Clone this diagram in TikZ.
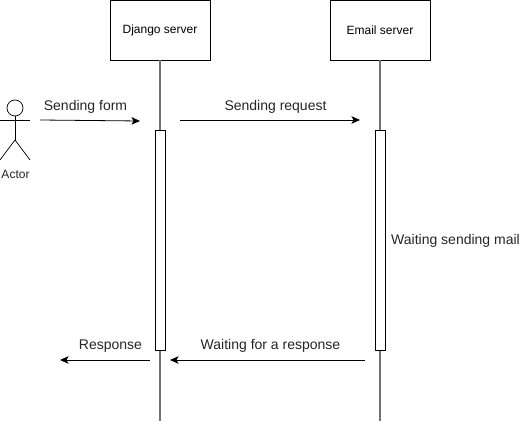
\documentclass[tikz,border=0pt]{standalone}
\usepackage{fontspec}
\setmainfont{Liberation Sans}
\usepackage{tikz}
\usetikzlibrary{arrows.meta}

\tikzset{
  server/.style={shape=rectangle,draw=black,minimum width=100pt,minimum height=60pt,inner sep=0pt,font=\fontsize{12}{14}\selectfont},
  activation/.style={shape=rectangle,draw=black,fill=white,minimum width=10pt,minimum height=220pt,inner sep=0pt},
  lifeline/.style={draw=black!55,line width=1.3pt},
  message/.style={draw=black,line width=0.8pt,-{Stealth[length=8.5pt,width=7.5pt,inset=2pt]}},
  lbl/.style={inner sep=0pt,text=black!85,font=\fontsize{14}{16}\selectfont},
  stick/.style={draw=black,line width=0.7pt}
}

\begin{document}
\begin{tikzpicture}[x=1pt,y=-1pt]
\useasboundingbox (0,0) rectangle (531,422);
\fill[white] (0,0) rectangle (531,422);
% servers
\node[server] (Django) at (160,30) {Django server};
\node[server] (Email) at (380,30) {Email server};
\coordinate (DjangoEnd) at (160,421);
\coordinate (EmailEnd) at (380,421);
\path [lifeline] (Django) -- (DjangoEnd);
\path [lifeline] (Email) -- (EmailEnd);
\node[activation] (DjangoBar) at (160,240) {};
\node[activation] (EmailBar) at (380,240) {};
% actor
\node[shape=circle,draw=black,line width=0.7pt,minimum size=16pt,inner sep=0pt] (Head) at (15,108) {};
\coordinate (Hip) at (15,140);
\coordinate (ArmL) at (0,120);
\coordinate (ArmR) at (30,120);
\coordinate (FootL) at (0,160);
\coordinate (FootR) at (30,160);
\path [stick] (Head) -- (Hip);
\path [stick] (ArmL) -- (ArmR);
\path [stick] (Hip) -- (FootL);
\path [stick] (Hip) -- (FootR);
\node[inner sep=0pt,text=black!85,font=\fontsize{12}{14}\selectfont] (Actor) at (15.5,174) {Actor};
% messages
\coordinate (A1) at (40,120);
\coordinate (A2) at (140,121);
\coordinate (B1) at (180,120);
\coordinate (B2) at (360,120);
\coordinate (C1) at (365,360);
\coordinate (C2) at (170,360);
\coordinate (D1) at (150,360);
\coordinate (D2) at (60,360);
\path [message] (A1) -- (A2);
\path [message] (B1) -- (B2);
\path [message] (C1) -- (C2);
\path [message] (D1) -- (D2);
% labels
\node[lbl] (Form) at (85.5,106.5) {Sending form};
\node[lbl] (Request) at (275.5,106.5) {Sending request};
\node[lbl,anchor=west] (Mail) at (391,241) {Waiting sending mail};
\node[lbl] (Resp) at (110.5,346) {Response};
\node[lbl] (Wait) at (270.5,346) {Waiting for a response};
\end{tikzpicture}
\end{document}
